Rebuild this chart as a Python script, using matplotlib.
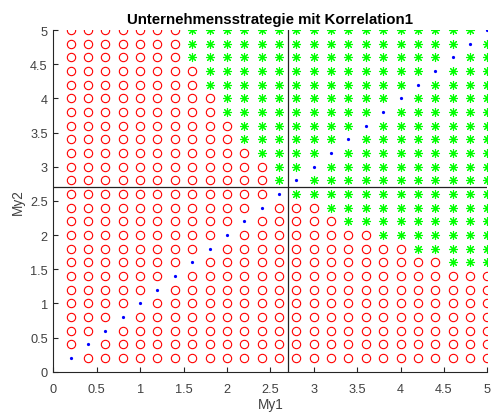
import numpy as np
import matplotlib
matplotlib.use("Agg")
import matplotlib.pyplot as plt

plt.rcParams['font.family'] = ['Liberation Sans', 'DejaVu Sans']

# grid of My values used on both axes
my_values = [0.2, 0.4, 0.6, 0.8, 1.0, 1.2, 1.4, 1.6, 1.8, 2.0, 2.2, 2.4, 2.6,
             2.8, 3.0, 3.2, 3.4, 3.6, 3.8, 4.0, 4.2, 4.4, 4.6, 4.8, 5.0]

# rows above the diagonal: first My1 value that belongs to the "*" strategy
upper_rows = [2.8, 3.0, 3.2, 3.4, 3.6, 3.8, 4.0, 4.2, 4.4, 4.6, 4.8, 5.0]
upper_star_from = [2.6, 2.6, 2.4, 2.2, 2.2, 2.0, 2.0, 1.8, 1.8, 1.6, 1.6, 1.6]

# rows below the diagonal: first My1 value that belongs to the "*" strategy
lower_rows = [1.6, 1.8, 2.0, 2.2, 2.4, 2.6]
lower_star_from = [4.6, 4.2, 3.8, 3.4, 3.2, 2.8]
lower_all_star_min = 2.8   # from this My2 upwards every point right of the diagonal is "*"

# threshold lines
thr_my1 = 2.7
thr_my2 = 2.7

title = "Unternehmensstrategie mit Korrelation1"
tick_vals = [0, 0.5, 1, 1.5, 2, 2.5, 3, 3.5, 4, 4.5, 5]
tick_text = ['0', '0.5', '1', '1.5', '2', '2.5', '3', '3.5', '4', '4.5', '5']

upper = {round(r, 1): v for r, v in zip(upper_rows, upper_star_from)}
lower = {round(r, 1): v for r, v in zip(lower_rows, lower_star_from)}

circ_x, circ_y, star_x, star_y, dot_x, dot_y = [], [], [], [], [], []
for y in my_values:
    ry = round(y, 1)
    for x in my_values:
        rx = round(x, 1)
        if rx == ry:
            dot_x.append(x); dot_y.append(y)
            continue
        if rx < ry:
            star = ry in upper and rx >= upper[ry] - 1e-9
        else:
            star = ry >= lower_all_star_min - 1e-9 or (ry in lower and rx >= lower[ry] - 1e-9)
        if star:
            star_x.append(x); star_y.append(y)
        else:
            circ_x.append(x); circ_y.append(y)

fig = plt.figure(figsize=(4.91, 4.14), dpi=100)
ax = fig.add_axes([0.1086, 0.0998, 0.8839, 0.8252])

ax.plot(circ_x, circ_y, linestyle='none', marker='o', markersize=6.0,
        markerfacecolor='none', markeredgecolor=(1, 0, 0), markeredgewidth=0.8)
ax.plot(star_x, star_y, linestyle='none', marker=(8, 2, 0), markersize=6.5,
        color=(0, 1, 0), markeredgewidth=0.8)
ax.plot(dot_x, dot_y, linestyle='none', marker='.', markersize=2.6,
        color=(0, 0, 1))

ax.axvline(thr_my1, color='#222222', linewidth=0.9)
ax.axhline(thr_my2, color='#222222', linewidth=0.9)

ax.set_xlim(0, 5)
ax.set_ylim(0, 5)
ax.set_xticks(tick_vals)
ax.set_yticks(tick_vals)
ax.set_xticklabels(tick_text)
ax.set_yticklabels(tick_text)

gray = '#262626'
for s in ['top', 'right']:
    ax.spines[s].set_visible(False)
for s in ['left', 'bottom']:
    ax.spines[s].set_color(gray)
    ax.spines[s].set_linewidth(0.8)
ax.tick_params(direction='in', length=3.5, width=0.8, colors=gray,
               labelcolor='#404040', labelsize=9.2)
ax.tick_params(axis='x', pad=8)
ax.tick_params(axis='y', pad=4)

ax.set_xlabel('My1', fontsize=9.8, color='#404040', labelpad=1.5)
ax.set_ylabel('My2', fontsize=9.8, color='#404040', labelpad=4)
ax.set_title(title, fontsize=10.8, fontweight='bold', pad=5)

fig.savefig('out.png', dpi=100)
